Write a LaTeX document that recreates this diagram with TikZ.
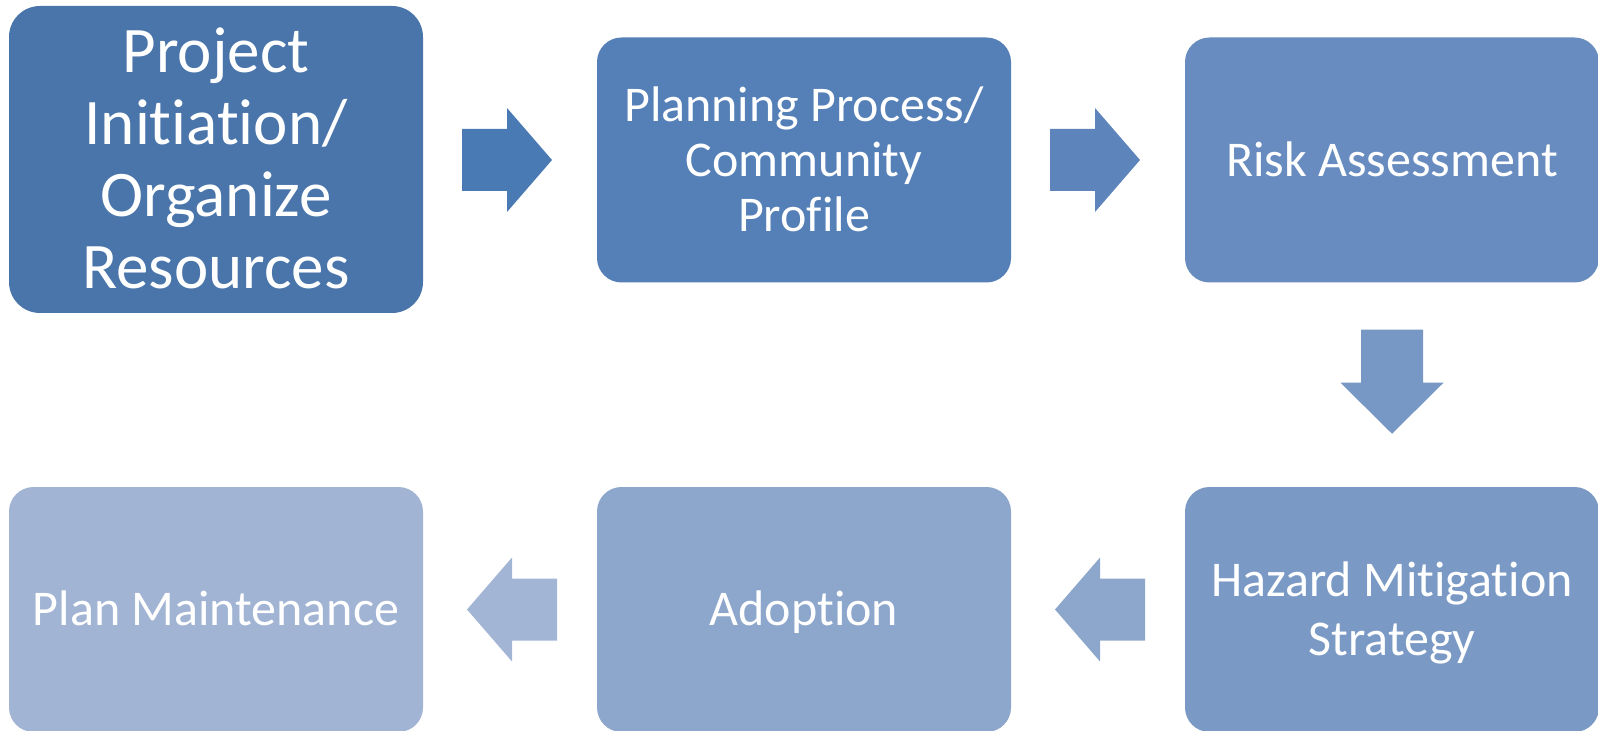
\documentclass[tikz,border=0pt]{standalone}
\usepackage{fontspec}
\setmainfont{Carlito}[Ligatures={NoCommon,NoContextual}, Contextuals=NoAlternate]
\usetikzlibrary{calc}
\definecolor{cb1}{HTML}{4A75AA}
\definecolor{cb2}{HTML}{547FB7}
\definecolor{cb3}{HTML}{688CBF}
\definecolor{cb4}{HTML}{7A9AC5}
\definecolor{cb5}{HTML}{8DA6CB}
\definecolor{cb6}{HTML}{A2B4D4}
\definecolor{ca1}{HTML}{4A7AB4}
\definecolor{ca2}{HTML}{5D85BC}
\definecolor{ca3}{HTML}{7798C5}
\definecolor{ca4}{HTML}{8DA7CC}
\definecolor{ca5}{HTML}{A3B5D5}
\newcommand\lnstrut{\rule[-0.25em]{0pt}{1.15em}}
\newcommand\tiX{t\kern0pt i}
\tikzset{
  box/.style={rectangle, rounded corners=12.25pt, minimum width=207pt, minimum height=122.5pt,
    inner sep=0pt, align=center, text=white, font=\fontsize{25}{27.5}\selectfont},
  bigbox/.style={box, rounded corners=15.5pt, minimum height=153.5pt, font=\fontsize{32.5}{36}\selectfont},
  rarrow/.pic={\fill (-45,-31) -- (0,-31) -- (0,-52) -- (45,0) -- (0,52) -- (0,31) -- (-45,31) -- cycle;},
  larrow/.pic={\fill (45,-31) -- (0,-31) -- (0,-52) -- (-45,0) -- (0,52) -- (0,31) -- (45,31) -- cycle;},
  darrow/.pic={\fill (-31,-53) -- (31,-53) -- (31,0) -- (51.5,0) -- (0,51) -- (-51.5,0) -- (-31,0) -- cycle;}
}
\begin{document}
\begin{tikzpicture}[x=0.5pt, y=-0.5pt]
\useasboundingbox (0,0) rectangle (1598,731);
\node[bigbox, fill=cb1] (b1) at (216,159.5) {\lnstrut Project\\Ini\tiX a\tiX on/\\Organize\\Resources\lnstrut};
\node[box, fill=cb2] (b2) at (804,160) {\lnstrut Planning Process/\\Community\\Profile\lnstrut};
\node[box, fill=cb3] (b3) at (1392,160) {\lnstrut Risk Assessment};
\node[box, fill=cb4] (b4) at (1392,609.5) {\lnstrut Hazard Mi\tiX ga\tiX on\\Strategy\lnstrut};
\node[box, fill=cb5] (b5) at (804,609.5) {\lnstrut Adop\tiX on};
\node[box, fill=cb6] (b6) at (216,609.5) {\lnstrut Plan Maintenance};
\coordinate (m1) at ($(b1.east |- b2.west)!0.5!(b2.west)$);
\coordinate (m2) at ($(b2.east)!0.5!(b3.west)$);
\coordinate (m3) at ($(b3.south)!0.5!(b4.north)$);
\coordinate (m4) at ($(b5.east)!0.5!(b4.west)$);
\coordinate (m5) at ($(b6.east)!0.5!(b5.west)$);
\pic[fill=ca1] at ($(m1)+(-3,0)$) {rarrow};
\pic[fill=ca2] at ($(m2)+(-3,0)$) {rarrow};
\pic[fill=ca3] at ($(m3)+(0,-2)$) {darrow};
\pic[fill=ca4] at ($(m4)+(2,0)$) {larrow};
\pic[fill=ca5] at ($(m5)+(2,0)$) {larrow};
\end{tikzpicture}
\end{document}
